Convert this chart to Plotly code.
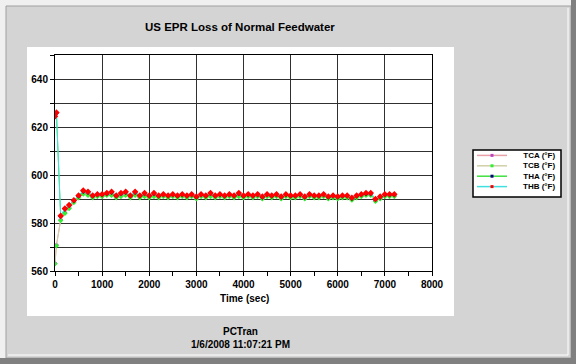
import plotly.graph_objects as go

time_sec = [0, 30, 120, 210, 300, 400, 500, 600, 700, 800,
            900, 1000, 1100, 1200, 1300, 1400, 1500, 1600, 1700, 1800,
            1900, 2000, 2100, 2200, 2300, 2400, 2500, 2600, 2700, 2800,
            2900, 3000, 3100, 3200, 3300, 3400, 3500, 3600, 3700, 3800,
            3900, 4000, 4100, 4200, 4300, 4400, 4500, 4600, 4700, 4800,
            4900, 5000, 5100, 5200, 5300, 5400, 5500, 5600, 5700, 5800,
            5900, 6000, 6100, 6200, 6300, 6400, 6500, 6600, 6700, 6800,
            6900, 7000, 7100, 7200]

tca = [563.2, 570.8, 581.3, 584.3, 586.3, 588.8, 590.8, 592.3, 591.8, 590.8,
       591.3, 591.3, 591.8, 591.8, 590.8, 591.3, 591.8, 590.8, 591.8, 590.8,
       591.3, 590.8, 591.3, 590.8, 591.3, 590.8, 591.3, 590.8, 591.3, 590.8,
       591.3, 590.3, 591.3, 590.8, 591.3, 590.8, 591.3, 590.8, 591.3, 590.8,
       591.3, 590.8, 591.3, 590.8, 591.3, 590.3, 591.3, 590.8, 591.3, 590.3,
       591.3, 590.8, 590.8, 591.3, 590.3, 591.3, 590.8, 590.8, 591.3, 590.3,
       590.8, 590.3, 590.8, 590.8, 589.8, 590.8, 591.3, 591.8, 591.8, 589.3,
       590.3, 591.3, 591.3, 591.3]

tcb = [563.0, 570.5, 581.0, 584.0, 586.0, 588.5, 590.5, 592.0, 591.5, 590.5,
       591.0, 591.0, 591.5, 591.5, 590.5, 591.0, 591.5, 590.5, 591.5, 590.5,
       591.0, 590.5, 591.0, 590.5, 591.0, 590.5, 591.0, 590.5, 591.0, 590.5,
       591.0, 590.0, 591.0, 590.5, 591.0, 590.5, 591.0, 590.5, 591.0, 590.5,
       591.0, 590.5, 591.0, 590.5, 591.0, 590.0, 591.0, 590.5, 591.0, 590.0,
       591.0, 590.5, 590.5, 591.0, 590.0, 591.0, 590.5, 590.5, 591.0, 590.0,
       590.5, 590.0, 590.5, 590.5, 589.5, 590.5, 591.0, 591.5, 591.5, 589.0,
       590.0, 591.0, 591.0, 591.0]

tha = [624.3, 625.8, 582.8, 585.8, 587.3, 589.3, 591.3, 593.2, 592.8, 591.3,
       591.8, 591.8, 592.2, 592.7, 591.3, 592.2, 592.7, 591.3, 592.7, 591.3,
       592.2, 591.3, 592.2, 591.3, 591.8, 591.3, 591.8, 591.3, 591.8, 591.3,
       591.8, 590.8, 591.8, 591.3, 592.2, 591.3, 591.8, 591.3, 591.8, 591.3,
       592.2, 591.3, 591.8, 591.3, 591.8, 590.8, 591.8, 591.3, 591.8, 590.8,
       591.8, 591.3, 591.3, 591.8, 590.8, 591.8, 591.3, 591.3, 591.8, 590.8,
       591.3, 590.8, 591.3, 591.3, 590.3, 591.3, 591.8, 592.2, 592.2, 589.8,
       590.8, 591.8, 591.8, 591.8]

thb = [624.5, 626.0, 583.0, 586.0, 587.5, 589.5, 591.5, 593.5, 593.0, 591.5,
       592.0, 592.0, 592.5, 593.0, 591.5, 592.5, 593.0, 591.5, 593.0, 591.5,
       592.5, 591.5, 592.5, 591.5, 592.0, 591.5, 592.0, 591.5, 592.0, 591.5,
       592.0, 591.0, 592.0, 591.5, 592.5, 591.5, 592.0, 591.5, 592.0, 591.5,
       592.5, 591.5, 592.0, 591.5, 592.0, 591.0, 592.0, 591.5, 592.0, 591.0,
       592.0, 591.5, 591.5, 592.0, 591.0, 592.0, 591.5, 591.5, 592.0, 591.0,
       591.5, 591.0, 591.5, 591.5, 590.5, 591.5, 592.0, 592.5, 592.5, 590.0,
       591.0, 592.0, 592.0, 592.0]

series_names = ["TCA (°F)", "TCB (°F)", "THA (°F)", "THB (°F)"]
series_values = [tca, tcb, tha, thb]
line_colors = ["#e8a0a8", "#d0d0a8", "#40e040", "#40e0e0"]
marker_colors = ["#c040c0", "#30f030", "#000080", "#ff0000"]
marker_sizes = [4, 4, 4, 5]

W, H = 576, 364
L, R, T, B = 55, 432, 55, 271


def px(x):
    return (x - L) / (R - L)


def py(y):
    return (B - y) / (B - T)


fig = go.Figure()
for name, vals, lc, mc, ms in zip(series_names, series_values, line_colors,
                                  marker_colors, marker_sizes):
    fig.add_trace(go.Scatter(
        x=time_sec, y=vals, name=name, mode="lines+markers",
        line=dict(color=lc, width=1),
        marker=dict(color=mc, size=ms, symbol="diamond", line=dict(width=0)),
        showlegend=False,
    ))

bold = dict(family="Liberation Sans, Arial, sans-serif", size=10,
            color="#000000", weight="bold")

shapes = [
    # outer frame
    dict(type="rect", xref="paper", yref="paper", x0=px(0), x1=px(W),
         y0=py(0), y1=py(H), fillcolor="#f0f0f0", line=dict(width=0),
         layer="below"),
    dict(type="rect", xref="paper", yref="paper", x0=px(6), x1=px(571),
         y0=py(6), y1=py(358), fillcolor="#d4d4d4",
         line=dict(color="#a0a0a0", width=1), layer="below"),
    dict(type="rect", xref="paper", yref="paper", x0=px(571), x1=px(W),
         y0=py(0), y1=py(H), fillcolor="#808080", line=dict(width=0),
         layer="below"),
    dict(type="rect", xref="paper", yref="paper", x0=px(0), x1=px(W),
         y0=py(358), y1=py(H), fillcolor="#808080", line=dict(width=0),
         layer="below"),
    dict(type="line", xref="paper", yref="paper", x0=px(568), x1=px(568),
         y0=py(8), y1=py(355), line=dict(color="#ffffff", width=1),
         layer="below"),
    dict(type="line", xref="paper", yref="paper", x0=px(8), x1=px(568),
         y0=py(355), y1=py(355), line=dict(color="#ffffff", width=1),
         layer="below"),
    # white chart panel
    dict(type="rect", xref="paper", yref="paper", x0=px(27), x1=px(454),
         y0=py(47), y1=py(316), fillcolor="#ffffff", line=dict(width=0),
         layer="below"),
    # legend box
    dict(type="rect", xref="paper", yref="paper", x0=px(473), x1=px(561),
         y0=py(150), y1=py(197), fillcolor="#ffffff",
         line=dict(color="#000000", width=1.5), layer="above"),
]

annotations = [
    dict(text="US EPR Loss of Normal Feedwater", xref="paper", yref="paper",
         x=px(240), y=py(27), showarrow=False, xanchor="center",
         yanchor="middle", font=dict(bold, size=11.5)),
    dict(text="Time (sec)", xref="paper", yref="paper",
         x=px(244), y=py(298), showarrow=False, xanchor="center",
         yanchor="middle", font=bold),
    dict(text="PCTran<br>1/6/2008 11:07:21 PM", xref="paper", yref="paper",
         x=px(240), y=py(338), showarrow=False, xanchor="center",
         yanchor="middle", font=dict(bold, size=10)),
]

# legend: one multi-line label block plus line/marker samples
leg_font = 8
leg_step = leg_font * 1.3
leg_center = 171.0
leg_rows = [leg_center + (i - 1.5) * leg_step for i in range(4)]
annotations.append(dict(text="<br>".join(series_names), xref="paper",
                        yref="paper", x=px(557), y=py(leg_center),
                        showarrow=False, xanchor="right", yanchor="middle",
                        align="right", font=dict(bold, size=leg_font)))
for lc, mc, ly in zip(line_colors, marker_colors, leg_rows):
    shapes.append(dict(type="line", xref="paper", yref="paper",
                       x0=px(477), x1=px(507), y0=py(ly), y1=py(ly),
                       line=dict(color=lc, width=1.5), layer="above"))
    shapes.append(dict(type="rect", xref="paper", yref="paper",
                       x0=px(490.5), x1=px(493.5), y0=py(ly - 1.5),
                       y1=py(ly + 1.5), fillcolor=mc, line=dict(width=0),
                       layer="above"))

fig.update_layout(
    width=W, height=H,
    margin=dict(l=L, r=W - R, t=T, b=H - B, pad=0),
    paper_bgcolor="#d4d4d4",
    plot_bgcolor="#ffffff",
    shapes=shapes,
    annotations=annotations,
    showlegend=False,
    xaxis=dict(
        range=[0, 8000], dtick=1000, tick0=0,
        showgrid=True, gridcolor="#303030", gridwidth=1,
        showline=True, linecolor="#000000", linewidth=1, mirror=True,
        ticks="outside", ticklen=4, tickcolor="#000000",
        minor=dict(dtick=500, ticks="outside", ticklen=4,
                   tickcolor="#000000", showgrid=False),
        tickfont=bold, zeroline=False,
    ),
    yaxis=dict(
        range=[560, 650], dtick=20, tick0=560,
        showgrid=True, gridcolor="#303030", gridwidth=1,
        showline=True, linecolor="#000000", linewidth=1, mirror=True,
        ticks="outside", ticklen=4, tickcolor="#000000",
        minor=dict(dtick=10, ticks="outside", ticklen=4,
                   tickcolor="#000000", showgrid=True,
                   gridcolor="#303030", gridwidth=1),
        tickfont=bold, zeroline=False,
    ),
)

fig.write_html("out.html",
               config={"displayModeBar": False},
               post_script="document.body.style.margin='0px';")
